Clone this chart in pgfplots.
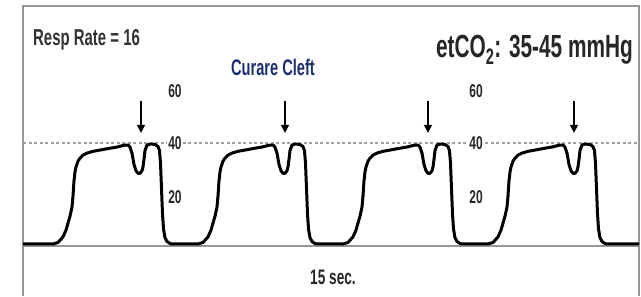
\documentclass[border=0pt]{standalone}
\usepackage{fontspec}
\setmainfont{Liberation Sans}[FakeStretch=0.65]
\usepackage{pgfplots}
\pgfplotsset{compat=1.18}
\usetikzlibrary{arrows.meta}
\definecolor{cleft}{RGB}{28,48,110}
\definecolor{framegray}{RGB}{150,150,150}
\definecolor{dashgray}{RGB}{160,160,160}
\begin{document}
\begin{tikzpicture}
\begin{axis}[scale only axis, width=641pt, height=296pt,
  xmin=0, xmax=641, ymin=-20.594, ymax=96.634,
  axis line style={draw=none}, xtick=\empty, ytick=\empty, clip=false]
% frame
\draw[framegray, line width=1.6pt] (axis cs:23,-20.594) -- (axis cs:23,94.3) -- (axis cs:639,94.3) -- (axis cs:639,-20.594);
\draw[framegray, line width=1.4pt] (axis cs:23,-0.8) -- (axis cs:639,-0.8);
% dashed reference at 40
\addplot[dashgray, line width=1.2pt, dash pattern=on 3pt off 2.5pt] coordinates {(23,40) (639,40)};
% scale labels
\pgfplotsinvokeforeach{175,476}{
  \node[font=\fontsize{18.5}{19}\selectfont\bfseries, text=black!85] at (axis cs:#1,60.5) {60};
  \node[font=\fontsize{18.5}{19}\selectfont\bfseries, text=black!85, fill=white, inner sep=1pt] at (axis cs:#1,40) {40};
  \node[font=\fontsize{18.5}{19}\selectfont\bfseries, text=black!85] at (axis cs:#1,18.5) {20};
}
% waveform
\addplot[black, line width=3pt, line join=round] coordinates {
(23,0)
(53,0)(58,0.6)(63,2.8)(66,5.5)(68,8.3)(70,11)(72,14.6)(73,19)(74,25)(75,28.5)(76,30.5)(78,32.8)(80,34)(83,35.2)(87,36)(93,36.7)(100,37.2)(108,37.8)(117,38.4)(122,38.9)(125,39.2)(128,39.2)(130,38.4)(132,36)(134,31.5)(136,29)(138,28)(140,28)(142,29)(143,30.5)(144,33.5)(145,37)(147,39.2)(150,39.6)(155,39.4)(158,38.6)(159.5,37)(160.5,32)(161.5,22)(162.5,12)(163.5,6)(165,2.5)(167,1)(170,0.2)(172,0)
(198,0)(203,0.6)(208,2.8)(211,5.5)(213,8.3)(215,11)(217,14.6)(218,19)(219,25)(220,28.5)(221,30.5)(223,32.8)(225,34)(228,35.2)(232,36)(238,36.7)(245,37.2)(253,37.8)(262,38.4)(267,38.9)(270,39.2)(273,39.2)(275,38.4)(277,36)(279,31.5)(281,29)(283,28)(285,28)(287,29)(288,30.5)(289,33.5)(290,37)(292,39.2)(295,39.6)(300,39.4)(303,38.6)(304.5,37)(305.5,32)(306.5,22)(307.5,12)(308.5,6)(310,2.5)(312,1)(315,0.2)(317,0)
(343,0)(348,0.6)(353,2.8)(356,5.5)(358,8.3)(360,11)(362,14.6)(363,19)(364,25)(365,28.5)(366,30.5)(368,32.8)(370,34)(373,35.2)(377,36)(383,36.7)(390,37.2)(398,37.8)(407,38.4)(412,38.9)(415,39.2)(418,39.2)(420,38.4)(422,36)(424,31.5)(426,29)(428,28)(430,28)(432,29)(433,30.5)(434,33.5)(435,37)(437,39.2)(440,39.6)(445,39.4)(448,38.6)(449.5,37)(450.5,32)(451.5,22)(452.5,12)(453.5,6)(455,2.5)(457,1)(460,0.2)(462,0)
(488,0)(493,0.6)(498,2.8)(501,5.5)(503,8.3)(505,11)(507,14.6)(508,19)(509,25)(510,28.5)(511,30.5)(513,32.8)(515,34)(518,35.2)(522,36)(528,36.7)(535,37.2)(543,37.8)(552,38.4)(557,38.9)(560,39.2)(563,39.2)(565,38.4)(567,36)(569,31.5)(571,29)(573,28)(575,28)(577,29)(578,30.5)(579,33.5)(580,37)(582,39.2)(585,39.6)(590,39.4)(593,38.6)(594.5,37)(595.5,32)(596.5,22)(597.5,12)(598.5,6)(600,2.5)(602,1)(605,0.2)(607,0)
(639,0)
};
% arrows
\pgfplotsinvokeforeach{141,285,428,574}{
  \draw[black, line width=1.4pt, -{Triangle[length=8pt,width=8pt]}] (axis cs:#1,56.6) -- (axis cs:#1,44);
}
% texts
\node[anchor=base west, inner sep=0pt, font=\fontsize{23}{25}\selectfont\bfseries, text=black!80] at (axis cs:33,78.8) {Resp Rate = 16};
\node[anchor=base, inner sep=0pt, font=\fontsize{22.5}{24}\selectfont\bfseries, text=cleft] at (axis cs:273,66.9) {Curare Cleft};
\node[anchor=base east, inner sep=0pt, font=\fontsize{32}{34}\selectfont\bfseries, text=black!85] at (axis cs:633,73.7) {etCO\textsubscript{2}: 35-45 mmHg};
\node[anchor=base, inner sep=0pt, font=\fontsize{21}{23}\selectfont\bfseries, text=black!85] at (axis cs:333,-16.2) {15 sec.};
\end{axis}
\end{tikzpicture}
\end{document}
